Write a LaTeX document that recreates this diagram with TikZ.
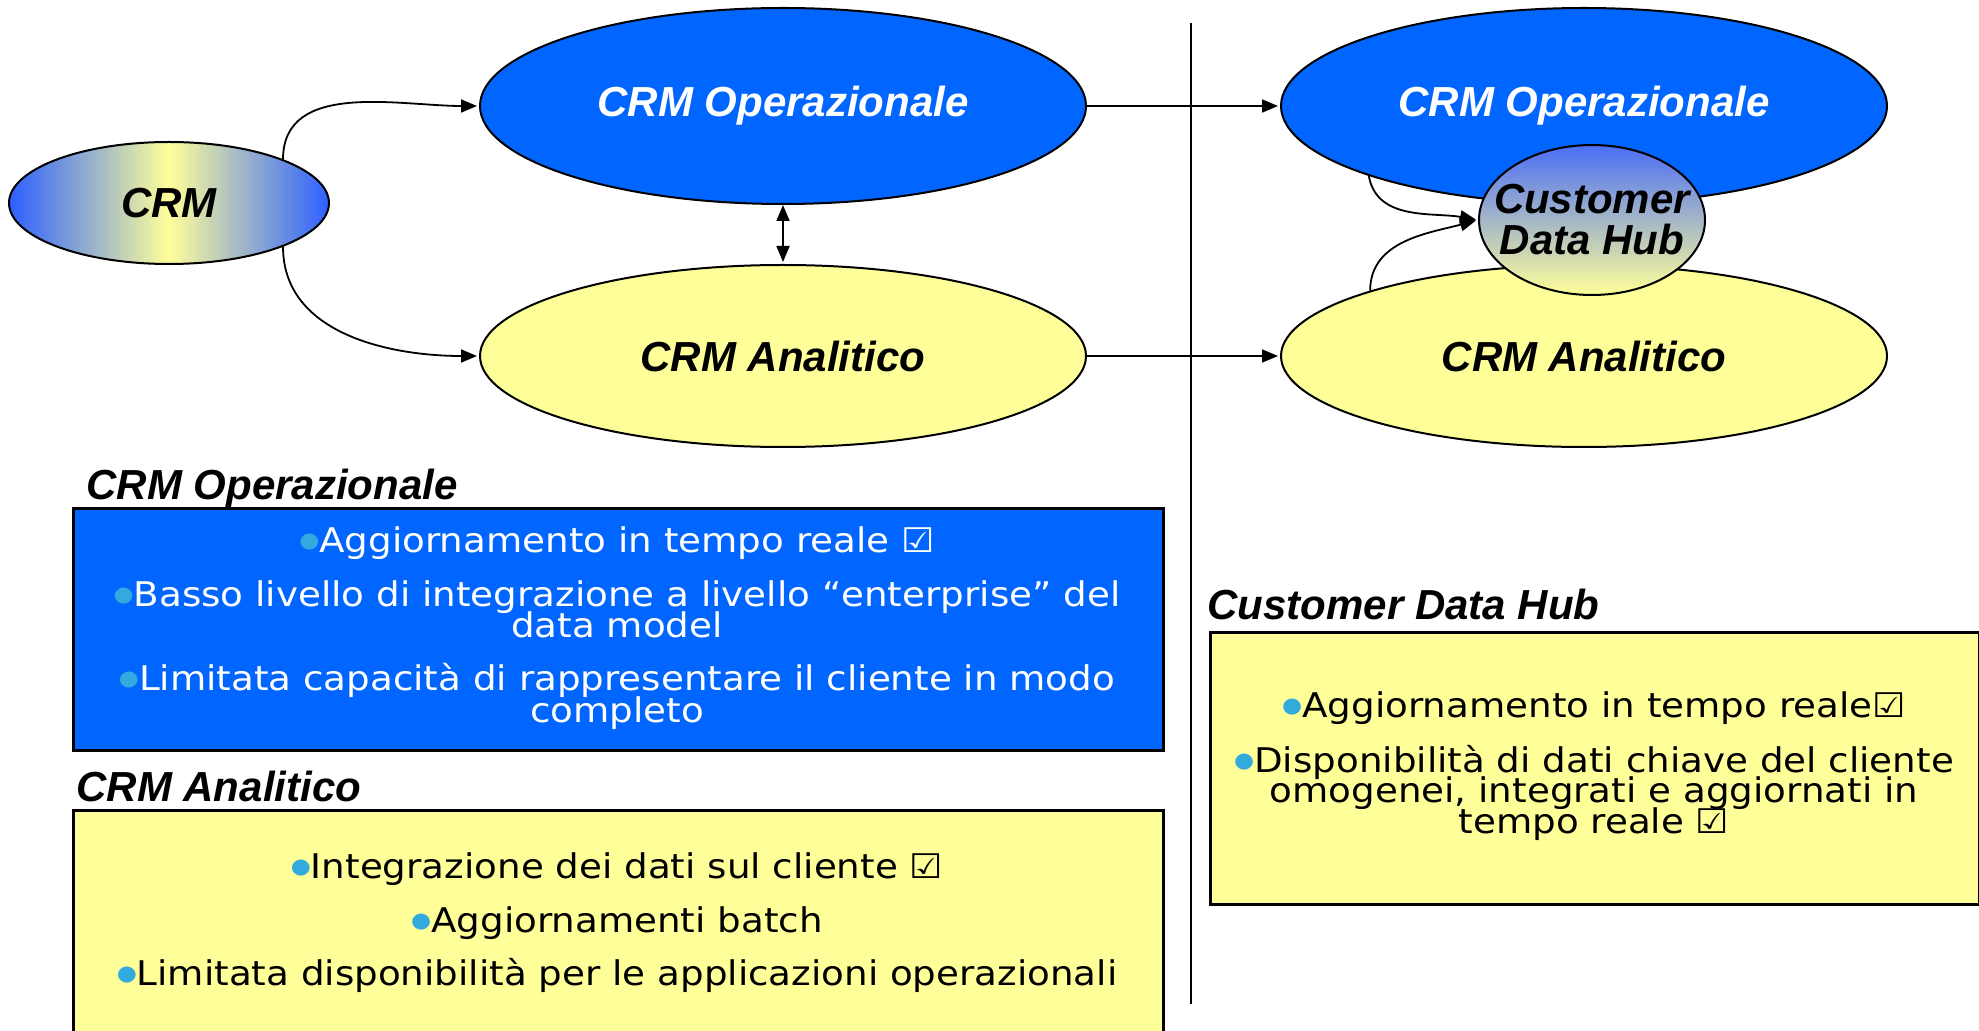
\documentclass[tikz,border=0pt]{standalone}
\usepackage{fontspec}
\setmainfont[FakeStretch=1.095]{DejaVu Sans}
\newfontfamily\headfont{Liberation Sans}
\usepackage{tikz}
\usetikzlibrary{arrows.meta,positioning,shapes.geometric}
\definecolor{crmBlue}{RGB}{0,102,255}
\definecolor{crmYellow}{RGB}{255,255,153}
\definecolor{edgeBlue}{RGB}{45,95,255}
\definecolor{hubTop}{RGB}{75,110,245}
\definecolor{bulletBlue}{RGB}{51,170,222}
\newcommand{\bul}{\raisebox{2.2pt}{\color{bulletBlue}\fontsize{10.5}{10.5}\selectfont●}}

\begin{document}
\begin{tikzpicture}[x=0.5pt, y=-0.5pt, node distance=125pt, on grid, shorten >=1pt,
    >={Triangle[length=8pt,width=6.5pt]}, every edge/.style={draw, line width=0.9pt},
    blob/.style={ellipse, draw, line width=1pt, inner sep=0pt, font=\headfont\fontsize{21}{20.5}\selectfont\bfseries\itshape},
    opblob/.style={blob, fill=crmBlue, text=white, minimum width=303pt, minimum height=98pt},
    anblob/.style={blob, fill=crmYellow, minimum width=303pt, minimum height=91pt},
    head/.style={anchor=base west, inner sep=0pt, font=\headfont\fontsize{21}{21}\selectfont\bfseries\itshape},
    panel/.style={draw, line width=1.25pt, inner sep=0pt, anchor=north west},
    item/.style={anchor=base, inner sep=0pt, font=\fontsize{17}{17}\selectfont}]
    \useasboundingbox (0,0) rectangle (1979,1031);
    \clip (0,0) rectangle (1979,1031);

    % ellipses
    \node[blob, minimum width=160pt, minimum height=61pt, left color=edgeBlue, right color=edgeBlue, middle color=crmYellow] (crm) at (169,203) {CRM};
    \node[opblob] (op) at (783,106) {CRM Operazionale};
    \node[anblob, below=of op] (an) {CRM Analitico};
    \node[opblob, right=400.5pt of op] (op2) {CRM Operazionale};
    \node[anblob, below=of op2] (an2) {CRM Analitico};
    \node[blob, minimum width=113pt, minimum height=75pt, top color=hubTop, bottom color=crmYellow,
        label={[align=center, inner sep=0pt, font=\headfont\fontsize{21}{20.5}\selectfont\bfseries\itshape]center:{Customer\\Data Hub}}] (hub) at (1592,220) {};

    \path[->] (crm.21) edge[out=90, in=180] (op.west)
        (crm.-21) edge[out=-90, in=180] (an.west)
        (op) edge (op2)
        (an) edge (an2)
        (op2.198) edge[out=-80, in=170] (hub.west)
        (an2.163) edge[out=90, in=195] (hub.west);
    \path[<->] (op) edge (an);

    \coordinate (sepTop) at (1191,23);
    \coordinate (sepBot) at (1191,1006);
    \draw[line width=0.75pt] (sepTop) -- (sepBot);

    % panels
    \node[head] (opHead) at (86,500) {CRM Operazionale};
    \node[panel, fill=crmBlue, minimum width=545pt, minimum height=121pt] (opPanel) at (72,507) {};
    \node[item, text=white] (op1) at (617,552) {\bul Aggiornamento in tempo reale ☑};
    \node[item, text=white] (op2a) at (617,606) {\bul Basso livello di integrazione a livello “enterprise” del};
    \node[item, text=white] (op2b) at (617,637) {data model};
    \node[item, text=white] (op3a) at (617,690) {\bul Limitata capacità di rappresentare il cliente in modo};
    \node[item, text=white] (op3b) at (617,722) {completo};

    \node[head] (anHead) at (76,801) {CRM Analitico};
    \node[panel, fill=crmYellow, minimum width=545pt, minimum height=122pt] (anPanel) at (72,809) {};
    \node[item] (an1) at (617,878) {\bul Integrazione dei dati sul cliente ☑};
    \node[item] (an2t) at (617,932) {\bul Aggiornamenti batch};
    \node[item] (an3) at (617,985) {\bul Limitata disponibilità per le applicazioni operazionali};

    \node[head] (hubHead) at (1207,619) {Customer Data Hub};
    \node[panel, fill=crmYellow, minimum width=384.5pt, minimum height=136pt] (hubPanel) at (1209,631) {};
    \node[item] (hub1) at (1594,717) {\bul Aggiornamento in tempo reale☑};
    \node[item] (hub2a) at (1594,772) {\bul Disponibilità di dati chiave del cliente};
    \node[item] (hub2b) at (1594,802) {omogenei, integrati e aggiornati in};
    \node[item] (hub2c) at (1594,833) {tempo reale ☑};
\end{tikzpicture}
\end{document}
